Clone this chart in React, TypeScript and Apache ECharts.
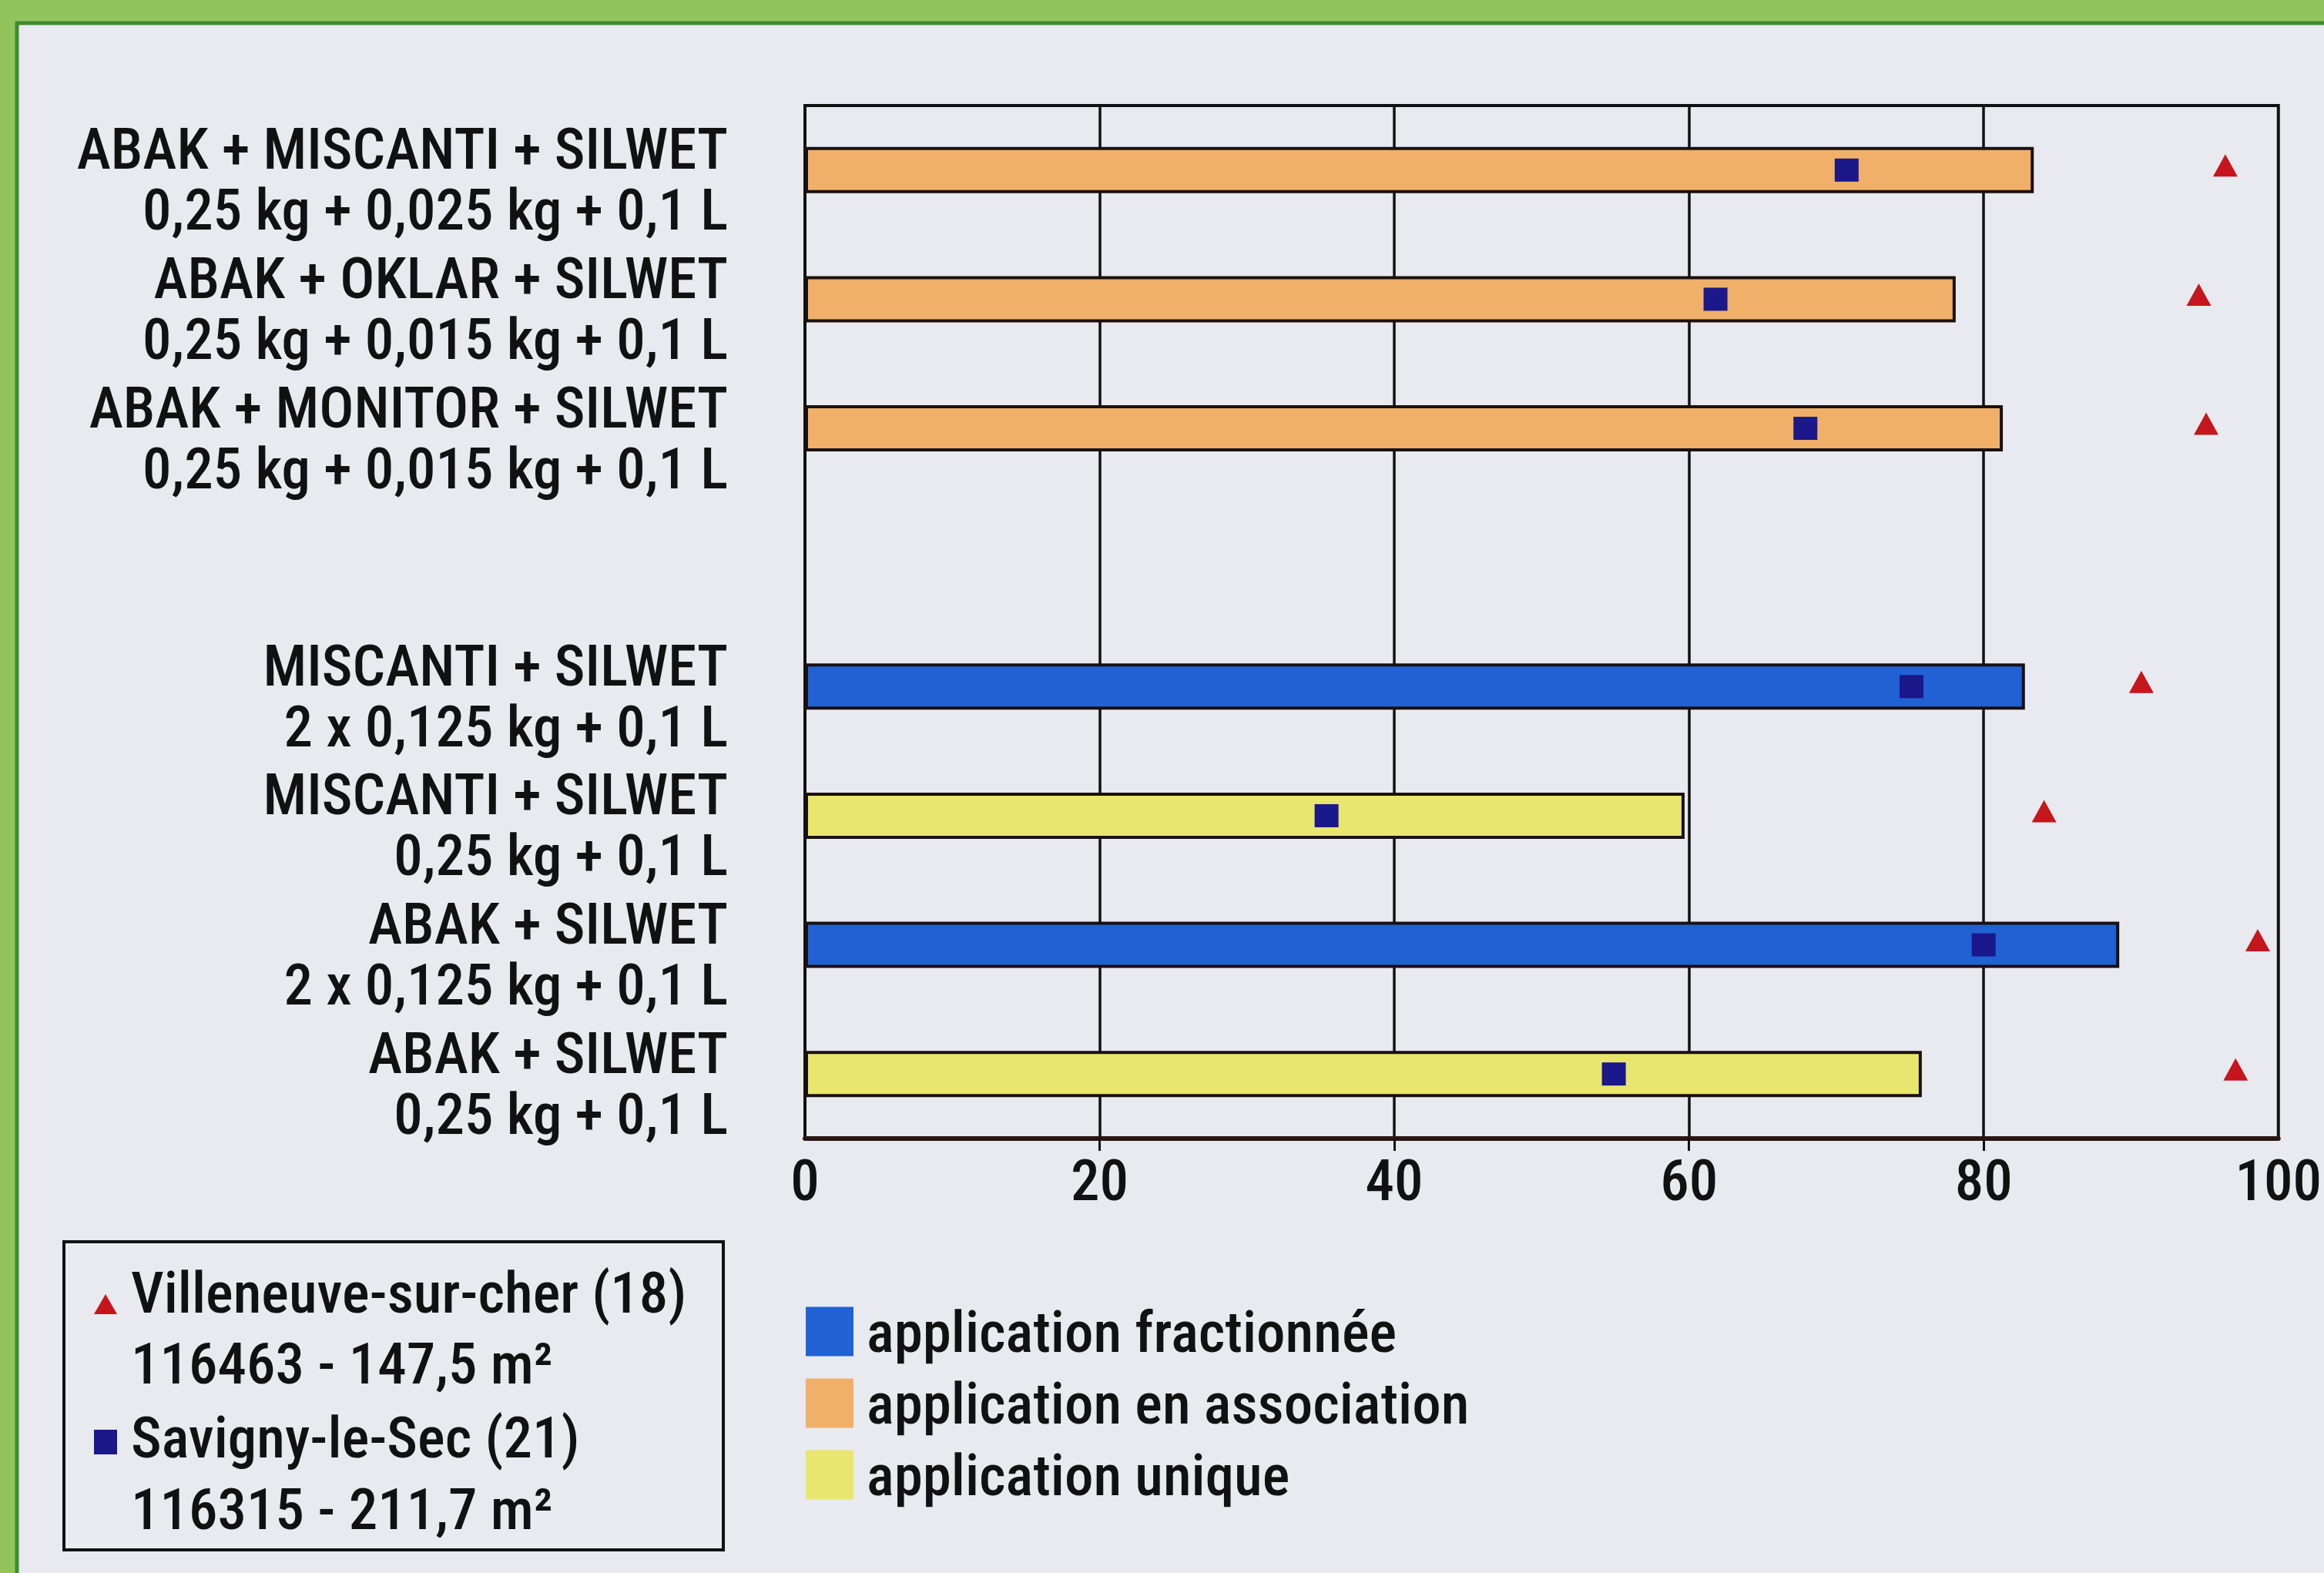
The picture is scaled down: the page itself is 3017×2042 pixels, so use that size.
import React, { useEffect, useRef } from 'react';
import * as echarts from 'echarts';

const categories = [
  'ABAK + MISCANTI + SILWET\n0,25 kg + 0,025 kg + 0,1 L',
  'ABAK + OKLAR + SILWET\n0,25 kg + 0,015 kg + 0,1 L',
  'ABAK + MONITOR + SILWET\n0,25 kg + 0,015 kg + 0,1 L',
  '',
  'MISCANTI + SILWET\n2 x 0,125 kg + 0,1 L',
  'MISCANTI + SILWET\n0,25 kg + 0,1 L',
  'ABAK + SILWET\n2 x 0,125 kg + 0,1 L',
  'ABAK + SILWET\n0,25 kg + 0,1 L',
];
const fractionnee = [null, null, null, null, 82.8, null, 89.2, null];
const association = [83.4, 78.1, 81.3, null, null, null, null, null];
const unique = [null, null, null, null, null, 59.7, null, 75.8];
const savigny = [70.7, 61.8, 67.9, null, 75.1, 35.4, 80.0, 54.9];
const villeneuve = [96.4, 94.6, 95.1, null, 90.7, 84.1, 98.6, 97.1];
const xTicks = [0, 20, 40, 60, 80, 100];
const seriesNames = ['application fractionnée', 'application en association', 'application unique'];
const siteLines = [
  'Villeneuve-sur-cher (18)',
  '116463 - 147,5 m²',
  'Savigny-le-Sec (21)',
  '116315 - 211,7 m²',
];

const FONT = '"Liberation Sans Narrow", "Arial Narrow", "Roboto Condensed", "Liberation Sans", sans-serif';
const WEIGHT = 500;
const FS = 75;

export default function App() {
  const ref = useRef<HTMLDivElement>(null);
  useEffect(() => {
    if (!ref.current) return;
    const chart = echarts.init(ref.current, undefined, { renderer: 'svg' });
    const toPts = (arr: (number | null)[]) =>
      arr.map((v, i) => (v == null ? null : [v, categories[i]])).filter((p) => p !== null);
    const barStyle = (color: string) => ({ color, borderColor: '#1a1010', borderWidth: 4 });
    const txt = (text: string, x: number, y: number) => ({
      type: 'text',
      x,
      y,
      style: {
        text,
        fontFamily: FONT,
        fontSize: FS,
        fontWeight: WEIGHT,
        fill: '#111',
        verticalAlign: 'middle',
        align: 'left',
      },
    });
    chart.setOption({
      animation: false,
      backgroundColor: '#e8eaef',
      textStyle: { fontFamily: FONT },
      grid: [
        {
          left: 1045,
          top: 137,
          width: 1913,
          height: 1341,
          show: true,
          borderColor: '#111',
          borderWidth: 4,
          backgroundColor: 'transparent',
        },
        // label grid: same size, nudged down so the two-line labels sit as in the print
        { left: 1045, top: 149, width: 1913, height: 1341, show: false },
      ],
      xAxis: [
        {
          type: 'value',
          gridIndex: 0,
          min: 0,
          max: 100,
          interval: 20,
          axisLine: { show: true, lineStyle: { color: '#2a1512', width: 6 } },
          axisTick: { show: true, length: 16, lineStyle: { color: '#111', width: 3 }, customValues: [20, 40, 60, 80] },
          splitLine: { show: true, lineStyle: { color: '#111', width: 3.5 } },
          axisLabel: {
            fontFamily: FONT,
            fontSize: FS,
            fontWeight: WEIGHT,
            color: '#111',
            margin: 16,
            customValues: xTicks,
          },
        },
        { type: 'value', gridIndex: 1, min: 0, max: 100, show: false },
      ],
      yAxis: [
        {
          type: 'category',
          gridIndex: 0,
          inverse: true,
          data: categories,
          axisLine: { show: false },
          axisTick: { show: false },
          splitLine: { show: false },
          axisLabel: { show: false },
        },
        {
          type: 'category',
          gridIndex: 1,
          inverse: true,
          data: categories,
          axisLine: { show: false },
          axisTick: { show: false },
          splitLine: { show: false },
          axisLabel: {
            interval: 0,
            fontFamily: FONT,
            fontSize: FS,
            fontWeight: WEIGHT,
            lineHeight: 79,
            color: '#111',
            margin: 100,
            align: 'right',
          },
        },
      ],
      legend: {
        data: seriesNames,
        orient: 'vertical',
        left: 1041,
        top: 1686,
        itemWidth: 62,
        itemHeight: 64,
        itemGap: 18,
        icon: 'rect',
        itemStyle: { borderWidth: 0 },
        textStyle: {
          fontFamily: FONT,
          fontSize: FS,
          fontWeight: WEIGHT,
          color: '#111',
          lineHeight: 64,
          padding: [0, 0, 0, 12],
        },
      },
      series: [
        {
          name: seriesNames[0],
          type: 'bar',
          data: fractionnee,
          barWidth: 60,
          barGap: '-100%',
          itemStyle: barStyle('#2062d4'),
        },
        {
          name: seriesNames[1],
          type: 'bar',
          data: association,
          barWidth: 60,
          barGap: '-100%',
          itemStyle: barStyle('#f0b06a'),
        },
        {
          name: seriesNames[2],
          type: 'bar',
          data: unique,
          barWidth: 60,
          barGap: '-100%',
          itemStyle: barStyle('#e8e66e'),
        },
        {
          name: 'Savigny-le-Sec (21)',
          type: 'scatter',
          data: toPts(savigny),
          symbol: 'rect',
          symbolSize: [31, 30],
          itemStyle: { color: '#1a188a', opacity: 1 },
          z: 5,
        },
        {
          name: 'Villeneuve-sur-cher (18)',
          type: 'scatter',
          data: toPts(villeneuve),
          symbol: 'triangle',
          symbolSize: [32, 29],
          symbolOffset: [0, -6],
          itemStyle: { color: '#c4161c', opacity: 1 },
          z: 5,
        },
      ],
      graphic: [
        { type: 'rect', shape: { x: 0, y: 0, width: 3017, height: 30 }, style: { fill: '#93c45c' }, silent: true },
        { type: 'rect', shape: { x: 0, y: 0, width: 22, height: 2042 }, style: { fill: '#93c45c' }, silent: true },
        { type: 'line', shape: { x1: 20, y1: 30, x2: 3017, y2: 30 }, style: { stroke: '#3d8c34', lineWidth: 5 }, silent: true },
        { type: 'line', shape: { x1: 22, y1: 28, x2: 22, y2: 2042 }, style: { stroke: '#3d8c34', lineWidth: 5 }, silent: true },
        {
          type: 'rect',
          shape: { x: 83, y: 1612, width: 856, height: 400 },
          style: { fill: 'none', stroke: '#111', lineWidth: 4 },
          silent: true,
        },
        {
          type: 'polygon',
          shape: { points: [[137, 1680], [122, 1706], [152, 1706]] },
          style: { fill: '#c4161c' },
          silent: true,
        },
        { type: 'rect', shape: { x: 122, y: 1856, width: 30, height: 32 }, style: { fill: '#1a188a' }, silent: true },
        txt(siteLines[0], 170, 1678),
        txt(siteLines[1], 170, 1770),
        txt(siteLines[2], 170, 1866),
        txt(siteLines[3], 170, 1959),
      ],
    });
    return () => chart.dispose();
  }, []);
  return <div ref={ref} style={{ position: 'absolute', left: 0, top: 0, width: 3017, height: 2042 }} />;
}
